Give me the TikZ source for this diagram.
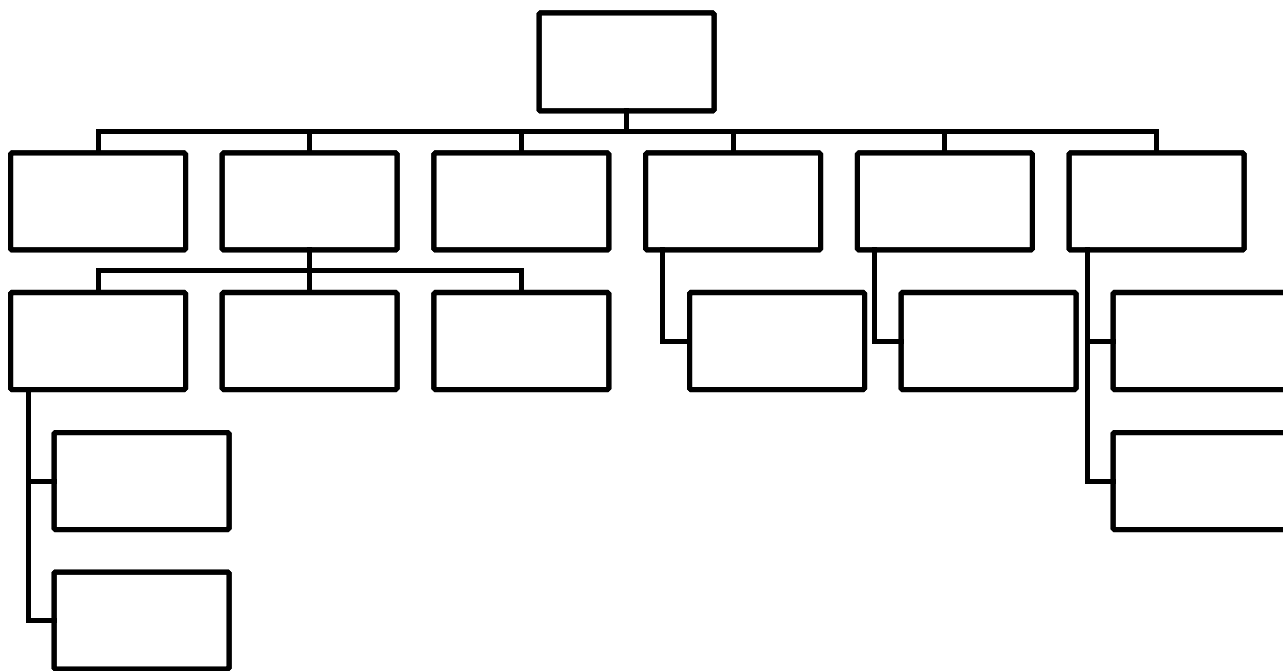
\documentclass[tikz,border=0pt]{standalone}
\begin{document}
\begin{tikzpicture}[x=1pt,y=-1pt,
  orgbox/.style={draw=black,fill=white,line width=5pt,rounded corners=1.5pt,
    minimum width=175pt,minimum height=97pt,inner sep=0pt,outer sep=0pt},
  link/.style={draw=black,line width=5pt,line join=miter,line cap=rect}]
\useasboundingbox (0,0) rectangle (1283,671);
\fill[white] (0,0) rectangle (1283,671);
\clip (0,0) rectangle (1283,671);
% top
\node[orgbox,minimum height=98pt] (top) at (626.5,62) {};
% row 1
\node[orgbox] (b1) at (98,201.5) {};
\node[orgbox] (b2) at (309.7,201.5) {};
\node[orgbox] (b3) at (521.4,201.5) {};
\node[orgbox] (b4) at (733.1,201.5) {};
\node[orgbox] (b5) at (944.8,201.5) {};
\node[orgbox] (b6) at (1156.5,201.5) {};
% row 2 under b2
\node[orgbox] (c1) at (98,341) {};
\node[orgbox] (c2) at (309.7,341) {};
\node[orgbox] (c3) at (521.4,341) {};
% children of b4, b5
\node[orgbox] (d4) at (777,341) {};
\node[orgbox] (d5) at (988.5,341) {};
% children of b6
\node[orgbox] (f1) at (1200.5,341) {};
\node[orgbox] (f2) at (1200.5,481) {};
% children of c1
\node[orgbox] (e1) at (141.5,481) {};
\node[orgbox] (e2) at (141.5,620.5) {};
% buses
\coordinate (bus) at (0,132);
\coordinate (bus2) at (0,271);
\draw[link] (top.south) -- (top.south |- bus);
\draw[link] (b1.north) |- (b6.north |- bus) -- (b6.north);
\foreach \i in {2,3,4,5} \draw[link] (b\i.north) -- (b\i.north |- bus);
\draw[link] (b2.south) -- (c2.north);
\draw[link] (c1.north) |- (c3.north |- bus2) -- (c3.north);
% side connectors
\coordinate (v4) at ([xshift=17pt]b4.south west);
\draw[link] (v4) |- (d4.west);
\coordinate (v5) at ([xshift=17pt]b5.south west);
\draw[link] (v5) |- (d5.west);
\coordinate (v6) at ([xshift=18pt]b6.south west);
\draw[link] (v6) |- (f2.west);
\draw[link] (f1.west) -- (f1.west -| v6);
\coordinate (v1) at ([xshift=18pt]c1.south west);
\draw[link] (v1) |- (e2.west);
\draw[link] (e1.west) -- (e1.west -| v1);
% redraw boxes on top of connector ends
\foreach \n in {top,b1,b2,b3,b4,b5,b6,c1,c2,c3,d4,d5,f1,f2,e1,e2}
  \draw[black,line width=5pt,rounded corners=1.5pt] (\n.north west) rectangle (\n.south east);
\end{tikzpicture}
\end{document}
